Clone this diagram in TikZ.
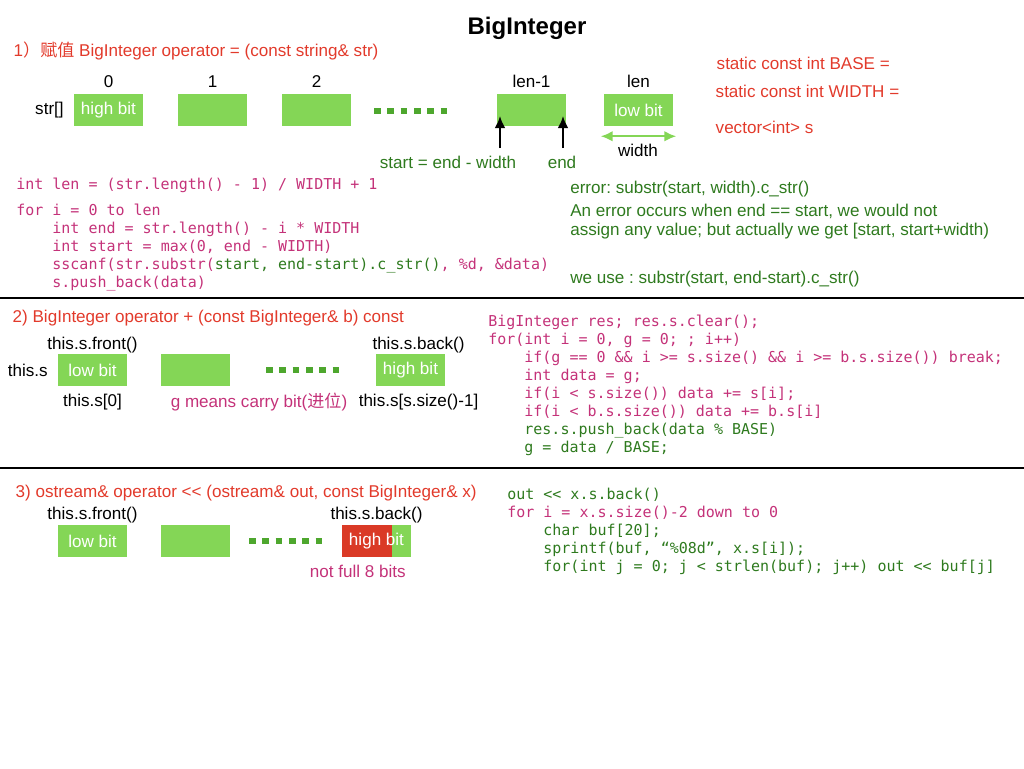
\documentclass[tikz,border=0pt]{standalone}
\usepackage{fontspec}
\setmainfont{Liberation Sans}
\setmonofont{DejaVu Sans Mono}
\newfontfamily\cjk{Noto Sans CJK SC}
\usepackage{tikz}
\usetikzlibrary{positioning,arrows.meta}
\frenchspacing

\definecolor{bitgreen}{HTML}{84D656}
\definecolor{dotgreen}{HTML}{4EA72E}
\definecolor{titlered}{HTML}{E23A2B}
\definecolor{bitred}{HTML}{DA3A26}
\definecolor{txtgreen}{HTML}{2E7A1E}
\definecolor{codemag}{HTML}{C43279}
\newcommand{\codeind}{\phantom{0000}}
\newcommand{\gr}[1]{\textcolor{txtgreen}{#1}}
\newcommand{\mg}[1]{\textcolor{codemag}{#1}}

\begin{document}
\begin{tikzpicture}[x=0.75pt, y=-0.75pt, > = {Latex[length=9pt,width=8pt]},
  every node/.style={font=\fontsize{12.8}{14.25}\selectfont},
  cell/.style={fill=bitgreen, text=white, minimum width=51.75pt, minimum height=24pt, inner sep=0pt},
  head/.style={text=titlered, anchor=west},
  note/.style={text=txtgreen},
  code/.style={font=\fontsize{11.25}{13.5}\selectfont\ttfamily, align=left, anchor=north west, inner sep=0pt, text=codemag},
  dotrow/.style={dotgreen, line width=5pt, dash pattern=on 5pt off 5pt},
  up/.style={->, line width=1.5pt},
  sep/.style={line width=1.5pt}]
\useasboundingbox (0,0) rectangle (1024,768);

\node (title) at (527,28) {\fontsize{18}{20}\selectfont\bfseries BigInteger};

% 1) assignment from string
\node[head] (h1) at (9,51) {1{\cjk ）赋值} BigInteger operator = (const string\& str)};
\node[cell] (c0) at (108.5,110) {high bit};
\node[cell] (c1) at (212.5,110) {};
\node[cell] (c2) at (316.5,110) {};
\node[cell] (clm) at (531.5,110) {};
\node[cell] (cl) at (638.5,110) {low bit};
\node (i0) [above=1pt of c0] {0};
\node (i1) [above=1pt of c1] {1};
\node (i2) [above=1pt of c2] {2};
\node (ilm) [above=1pt of clm] {len-1};
\node (il) [above=1pt of cl] {len};
\node (strl) [left=4pt of c0] {str[]};
\draw[dotrow] (374,111) -- (448,111);

\coordinate (sa) at (500,148);
\coordinate (ea) at (563,148);
\draw[up] (sa) -- ++(0,-32);
\draw[up] (ea) -- ++(0,-32);
\node[note] (startl) at (448,162) {start = end - width};
\node[note] (endl) at (562,162) {end};
\draw[<->, bitgreen, line width=1.5pt] ([xshift=-2.25pt,yshift=-7.5pt]cl.south west) -- ([xshift=2.25pt,yshift=-7.5pt]cl.south east);
\node (wl) at (638,150) {width};

\node[head] (base) at (712,63) {static const int BASE =};
\node[head] (width) at (711,91) {static const int WIDTH =};
\node[head] (vec) at (711,127) {vector<int> s};

\node[code] (code1) at (16,178) {int len = (str.length() - 1) / WIDTH + 1\\[6pt]
  for i = 0 to len\\
  \codeind int end = str.length() - i * WIDTH\\
  \codeind int start = max(0, end - WIDTH)\\
  \codeind sscanf(str.substr(\gr{start, end-start).c\_str()}, \%d, \&data)\\
  \codeind s.push\_back(data)};

\node[note, align=left, anchor=north west, inner sep=0pt] (err) at (570,181) {error: substr(start, width).c\_str()\\[3pt]
  An error occurs when end == start, we would not\\
  assign any value; but actually we get [start, start+width)};
\node[note, anchor=west, inner sep=0pt] (use) at (570,279) {we use : substr(start, end-start).c\_str()};

\draw[sep] (0,298) -- (1024,298);

% 2) addition
\node[head] (h2) at (8,318) {2) BigInteger operator + (const BigInteger\& b) const};
\node[cell] (lb2) at (92.5,370) {low bit};
\node[cell] (m2) at (195.5,370) {};
\node[cell] (hb2) at (410.5,370) {high bit};
\draw[dotrow] (266,370) -- (340,370);
\node (ts2) [left=4pt of lb2] {this.s};
\node (fr2) [above=-3pt of lb2] {this.s.front()};
\node (s02) [below=2pt of lb2] {this.s[0]};
\node (bk2) [above=-3pt of hb2, xshift=6pt] {this.s.back()};
\node (sn2) [below=2pt of hb2, xshift=6pt] {this.s[s.size()-1]};
\node[text=codemag] (carry) at (259,402) {g means carry bit({\cjk 进位})};

\node[code] (code2) at (488,315) {BigInteger res; res.s.clear();\\
  for(int i = 0, g = 0; ; i++)\\
  \codeind if(g == 0 \&\& i >= s.size() \&\& i >= b.s.size()) break;\\
  \codeind int data = g;\\
  \codeind if(i < s.size()) data += s[i];\\
  \codeind if(i < b.s.size()) data += b.s[i]\\
  \codeind \gr{res.s.push\_back(data \% BASE)}\\
  \codeind \gr{g = data / BASE;}};

\draw[sep] (0,468) -- (1024,468);

% 3) output
\node[head] (h3) at (11,493) {3) ostream\& operator <{}< (ostream\& out, const BigInteger\& x)};
\node[cell] (lb3) at (92.5,541) {low bit};
\node[cell] (m3) at (195.5,541) {};
\node[cell, path picture={\fill[bitred] (path picture bounding box.south west) rectangle ([xshift=-14.25pt]path picture bounding box.north east);}] (hb3) at (376.5,541) {high bit};
\draw[dotrow] (249,541) -- (323,541);
\node (fr3) [above=-2pt of lb3] {this.s.front()};
\node (bk3) [above=-2pt of hb3] {this.s.back()};
\node[text=codemag] (nf3) [below=2pt of hb3, xshift=-14pt] {not full 8 bits};

\node[code, text=txtgreen] (code3) at (507,488) {out <{}< x.s.back()\\
  \mg{for i = x.s.size()-2 down to 0}\\
  \codeind char buf[20];\\
  \codeind sprintf(buf, “\%08d”, x.s[i]);\\
  \codeind for(int j = 0; j < strlen(buf); j++) out <{}< buf[j]};
\end{tikzpicture}
\end{document}
